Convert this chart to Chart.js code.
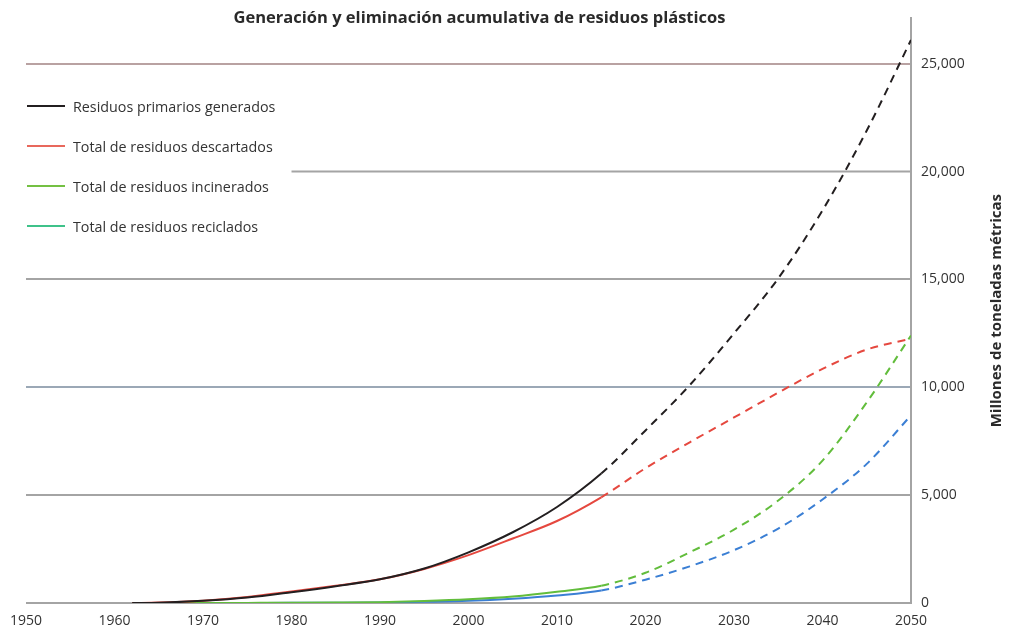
<!DOCTYPE html>
<html>
<head>
<meta charset="utf-8">
<script src="https://cdn.jsdelivr.net/npm/chart.js@4"></script>
<style>
  body { margin: 0; background: #fff; }
  #wrap { position: relative; width: 1011px; height: 633px; }
  #legend { position: absolute; left: 27px; top: 86px; font: 14.3px "Open Sans", sans-serif; color: #333; }
  .item { display: flex; align-items: center; height: 40px; }
  .item span.swatch { display: inline-block; width: 38px; height: 2px; margin-right: 8px; }
</style>
</head>
<body>
<div id="wrap">
  <canvas id="wasteChart" width="1011" height="633"></canvas>
  <div id="legend"></div>
</div>
<script>
// years sampled from the curves
const years = [1962, 1965, 1970, 1975, 1980, 1985, 1990, 1995, 2000, 2005, 2010, 2015, 2020, 2025, 2030, 2035, 2040, 2045, 2050];
const generated   = [0, 15, 100, 250, 500, 780, 1100, 1600, 2350, 3280, 4450, 6000, 8000, 10100, 12500, 15050, 18200, 21900, 26100];
const discarded   = [0, 20, 110, 280, 530, 800, 1100, 1580, 2220, 2990, 3800, 4900, 6250, 7450, 8600, 9750, 10850, 11750, 12250];
const incinerated = [0, 0, 2, 5, 10, 20, 40, 90, 170, 300, 520, 800, 1400, 2350, 3400, 4750, 6600, 9300, 12400];
const recycled    = [0, 0, 1, 3, 6, 12, 25, 55, 100, 200, 350, 580, 1080, 1700, 2450, 3450, 4800, 6450, 8700];

const seriesLabels = ['Residuos primarios generados', 'Total de residuos descartados', 'Total de residuos incinerados', 'Total de residuos reciclados'];
const lineColors   = ['#231f20', '#e5483f', '#62bd3c', '#3b7fd4'];
const legendColors = ['#231f20', '#e8685c', '#74c043', '#3fc28a'];
const xTicks = [1950, 1960, 1970, 1980, 1990, 2000, 2010, 2020, 2030, 2040, 2050];
const yTicks = [0, 5000, 10000, 15000, 20000, 25000];
const projectionStart = 2015;

const chartTitle = 'Generación y eliminación acumulativa de residuos plásticos';
const yTitle = 'Millones de toneladas métricas';

const FONT = '"Open Sans", sans-serif';

// legend (html)
const legendEl = document.getElementById('legend');
seriesLabels.forEach((lab, i) => {
  const row = document.createElement('div');
  row.className = 'item';
  row.innerHTML = '<span class="swatch" style="background:' + legendColors[i] + '"></span>' + lab;
  legendEl.appendChild(row);
});

const seriesValues = [generated, discarded, incinerated, recycled];
const datasets = seriesValues.map((vals, i) => ({
  label: seriesLabels[i],
  data: years.map((y, j) => ({ x: y, y: vals[j] })),
  borderColor: lineColors[i],
  borderWidth: 2,
  pointRadius: 0,
  fill: false,
  cubicInterpolationMode: 'monotone',
  segment: {
    borderDash: ctx => ctx.p0.parsed.x >= projectionStart ? [8, 6] : undefined
  }
}));

const extras = {
  id: 'extras',
  beforeDatasetsDraw(chart) {
    // short 20,000 line that starts right of the legend
    const { ctx, scales } = chart;
    const y = scales.y.getPixelForValue(20000);
    ctx.save();
    ctx.strokeStyle = '#a4a4a4';
    ctx.lineWidth = 2;
    ctx.beginPath();
    ctx.moveTo(scales.x.getPixelForValue(1980), y);
    ctx.lineTo(chart.chartArea.right, y);
    ctx.stroke();
    ctx.restore();
  },
  afterDraw(chart) {
    const { ctx, chartArea } = chart;
    ctx.save();
    ctx.fillStyle = '#2a2a2a';
    ctx.font = 'bold 16.5px ' + FONT;
    ctx.textAlign = 'center';
    ctx.textBaseline = 'middle';
    ctx.fillText(chartTitle, (chartArea.left + chartArea.right) / 2 + 11, 18);
    ctx.translate(997, (chartArea.top + chartArea.bottom) / 2);
    ctx.rotate(-Math.PI / 2);
    ctx.font = 'bold 15px ' + FONT;
    ctx.fillText(yTitle, 0, 0);
    ctx.restore();
  }
};

const gridColor = v => {
  if (v === 20000) return 'rgba(0,0,0,0)';
  if (v === 25000) return '#b9a2a2';
  if (v === 10000) return '#9ba8b6';
  return '#a4a4a4';
};

new Chart(document.getElementById('wasteChart'), {
  type: 'line',
  data: { datasets },
  options: {
    responsive: false,
    animation: false,
    layout: { padding: { left: 11, top: 16, right: 0, bottom: 0 } },
    plugins: {
      legend: { display: false },
      title: { display: false },
      tooltip: { enabled: false }
    },
    scales: {
      x: {
        type: 'linear',
        min: 1950,
        max: 2050,
        afterBuildTicks: scale => { scale.ticks = xTicks.map(v => ({ value: v })); },
        afterFit: scale => { scale.height = 30; },
        grid: { display: false, drawTicks: false },
        border: { display: false },
        ticks: { padding: 10, color: '#333', font: { family: FONT, size: 14 }, maxRotation: 0, callback: v => String(v) }
      },
      y: {
        position: 'right',
        min: 0,
        max: 27100,
        afterBuildTicks: scale => { scale.ticks = yTicks.map(v => ({ value: v })); },
        afterFit: scale => { scale.width = 100; },
        grid: { color: ctx => gridColor(ctx.tick.value), lineWidth: 2, drawTicks: false },
        border: { display: true, color: '#a4a4a4', width: 2 },
        ticks: {
          padding: 10,
          color: '#333',
          font: { family: FONT, size: 14 },
          callback: v => v.toLocaleString('en-US')
        }
      }
    }
  },
  plugins: [extras]
});
</script>
</body>
</html>
